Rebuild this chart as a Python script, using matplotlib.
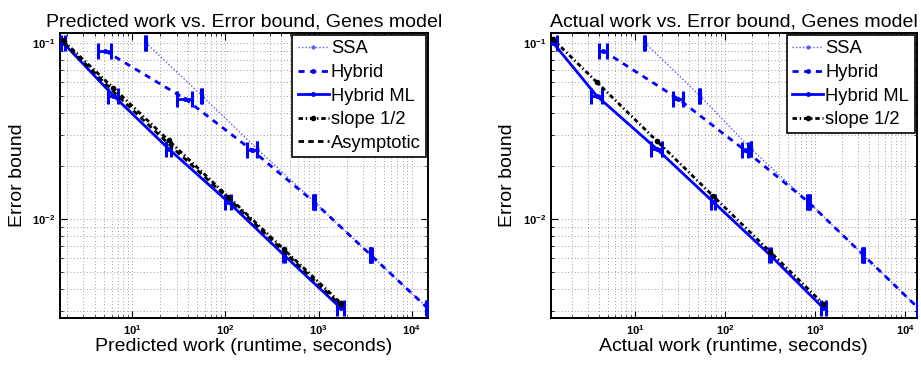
import matplotlib
matplotlib.use("Agg")
import matplotlib.pyplot as plt
from matplotlib.ticker import FixedLocator, LogLocator, NullFormatter, FixedFormatter

plt.rcParams['font.family'] = ['Liberation Sans', 'DejaVu Sans']
plt.rcParams['mathtext.fontset'] = 'custom'
plt.rcParams['mathtext.rm'] = 'Liberation Sans'
plt.rcParams['mathtext.bf'] = 'Liberation Sans:bold'

# ---------------- data ----------------
tol = [0.1, 0.05, 0.025, 0.0125, 0.00625, 0.003125]

# Predicted work panel
pred_ml_x = [1.81, 6.3, 24.6, 107, 424, 1726]
pred_ml_rel = [0.06, 0.12, 0.065, 0.08, 0.025, 0.08]
pred_hyb_x = [5.1, 37, 194, 892, 3625, 14760]
pred_hyb_y = [0.09, 0.048, 0.0245, 0.0125, 0.00625, 0.003125]
pred_hyb_rel = [0.16, 0.19, 0.118, 0.025, 0.025, 0.025]
pred_ssa_x = [14.0, 56, 219, 900, 3625, 14760]
pred_ssa_rel = [0.01, 0.01, 0.01, 0.01, 0.01, 0.01]
pred_slope_y = [0.103, 0.0552, 0.0279, 0.0134, 0.00673, 0.00334]
pred_asym_x = [1.85, 7.0, 28.0, 118, 465, 1850]

# Actual work panel
act_ml_x = [1.23, 3.75, 17.4, 74, 316, 1236]
act_ml_rel = [0.094, 0.137, 0.137, 0.052, 0.026, 0.066]
act_hyb_x = [4.45, 30.3, 167, 841, 3435, 14000]
act_hyb_y = [0.09, 0.048, 0.0245, 0.0125, 0.00625, 0.003125]
act_hyb_rel = [0.108, 0.122, 0.08, 0.04, 0.02, 0.02]
act_ssa_x = [12.9, 52.7, 195, 841, 3435, 14000]
act_ssa_rel = [0.01, 0.01, 0.01, 0.01, 0.01, 0.01]
act_slope_y = [0.1046, 0.0599, 0.0278, 0.01348, 0.00653, 0.0033]

xticks = [10, 100, 1000, 10000]
xticklabels = [r'$\mathbf{10^{1}}$', r'$\mathbf{10^{2}}$', r'$\mathbf{10^{3}}$', r'$\mathbf{10^{4}}$']
yticks = [0.01, 0.1]
yticklabels = [r'$\mathbf{10^{-2}}$', r'$\mathbf{10^{-1}}$']

BLUE = (0, 0, 1)
SSA_C = (0.35, 0.35, 1.0)
FS = 14

fig = plt.figure(figsize=(9.21, 3.65), dpi=100)
axL = fig.add_axes([60/921, 1-318/365, 368/921, 285/365])
axR = fig.add_axes([550.7/921, 1-318/365, 366/921, 285/365])


def errbars(ax, x, y, rel, color):
    xe = [r * v for r, v in zip(rel, x)]
    ax.errorbar(x, y, xerr=xe, fmt='none', ecolor=color, elinewidth=2.0,
                capsize=5.5, capthick=2.2, zorder=4)


def panel(ax, ssa_x, ssa_rel, hyb_x, hyb_y, hyb_rel, ml_x, ml_rel, slope_y,
          asym_x, xlim, title, xlabel, ylab_x):
    h = []
    h += ax.plot(ssa_x, tol, linestyle=(0, (1, 1.5)), color=SSA_C, lw=1.0,
                 marker='.', ms=4, label='SSA', zorder=3)
    h += ax.plot(hyb_x, hyb_y, linestyle=(0, (2.2, 2.0)), color=BLUE, lw=2.0,
                 marker='.', ms=5, label='Hybrid', zorder=3)
    h += ax.plot(ml_x, tol, '-', color=BLUE, lw=2.0, marker='.', ms=5,
                 label='Hybrid ML', zorder=3)
    h += ax.plot(ml_x, slope_y, linestyle=(0, (1.6, 1.0, 0.5, 1.0)), color='k',
                 lw=2.0, marker='.', ms=6, label='slope 1/2', zorder=5)
    if asym_x is not None:
        h += ax.plot(asym_x, tol, linestyle=(0, (2.0, 1.5)), color='k', lw=2.0,
                     label='Asymptotic', zorder=5)
    errbars(ax, ssa_x, tol, ssa_rel, BLUE)
    errbars(ax, hyb_x, hyb_y, hyb_rel, BLUE)
    errbars(ax, ml_x, tol, ml_rel, BLUE)

    ax.set_xscale('log')
    ax.set_yscale('log')
    ax.set_xlim(*xlim)
    ax.set_ylim(0.00274, 0.1135)
    ax.xaxis.set_major_locator(FixedLocator(xticks))
    ax.xaxis.set_major_formatter(FixedFormatter(xticklabels))
    ax.yaxis.set_major_locator(FixedLocator(yticks))
    ax.yaxis.set_major_formatter(FixedFormatter(yticklabels))
    ax.xaxis.set_minor_locator(LogLocator(base=10, subs=range(2, 10)))
    ax.yaxis.set_minor_locator(LogLocator(base=10, subs=range(2, 10)))
    ax.xaxis.set_minor_formatter(NullFormatter())
    ax.yaxis.set_minor_formatter(NullFormatter())
    ax.tick_params(which='both', direction='in', top=True, right=True, labelsize=8)
    ax.tick_params(which='major', length=5, width=0.8)
    ax.tick_params(which='minor', length=2.5, width=0.6)
    ax.grid(True, which='both', linestyle=(0, (1, 3)), color='0.5', lw=0.6)
    for s in ax.spines.values():
        s.set_linewidth(1.4)
    ax.set_title(title, fontsize=FS, pad=5)
    ax.set_xlabel(xlabel, fontsize=FS)
    ax.set_ylabel('Error bound', fontsize=FS)
    ax.yaxis.set_label_coords(ylab_x, 0.5)
    ax.xaxis.set_label_coords(0.5, -0.07)
    leg = ax.legend(handles=h, loc='upper right', fontsize=13.2, fancybox=False,
                    framealpha=1, edgecolor='k', borderaxespad=0.12,
                    handlelength=1.7, handletextpad=0.12, labelspacing=0.36,
                    borderpad=0.28)
    leg.get_frame().set_linewidth(1.2)


panel(axL, pred_ssa_x, pred_ssa_rel, pred_hyb_x, pred_hyb_y, pred_hyb_rel,
      pred_ml_x, pred_ml_rel, pred_slope_y, pred_asym_x, (1.68, 14970),
      'Predicted work vs. Error bound, Genes model', 'Predicted work (runtime, seconds)', -0.092)
panel(axR, act_ssa_x, act_ssa_rel, act_hyb_x, act_hyb_y, act_hyb_rel,
      act_ml_x, act_ml_rel, act_slope_y, None, (1.16, 13500),
      'Actual work vs. Error bound, Genes model', 'Actual work (runtime, seconds)', -0.095)

fig.savefig('out.png', dpi=100)
